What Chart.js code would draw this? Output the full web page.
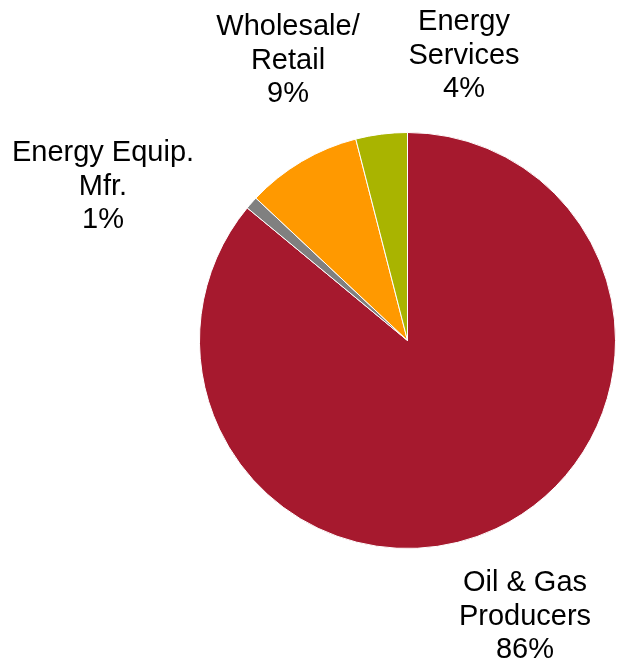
<!DOCTYPE html>
<html>
<head>
<meta charset="utf-8">
<script src="https://cdn.jsdelivr.net/npm/chart.js@4/dist/chart.umd.min.js"></script>
<style>
  html, body { margin: 0; padding: 0; background: #ffffff; }
  canvas { display: block; }
</style>
</head>
<body>
<canvas id="pieChartEnergy" width="617" height="661"></canvas>
<script>
// sector shares, clockwise from 12 o'clock
var sectors = [["Oil & Gas", "Producers"], ["Energy Equip.", "Mfr."], ["Wholesale/", "Retail"], ["Energy", "Services"]];
var shares = [86, 1, 9, 4];
var sectorColors = ["#A6192E", "#808080", "#FF9900", "#A9B400"];

// where each label block sits: centre x, baseline of its first line
var labelAnchor = [[525, 591], [103, 161], [288, 35], [464, 30]];
var lineGap = 33.5;

var outsideLabels = {
    id: 'outsideLabels',
    afterDraw: function(chart) {
        var ctx = chart.ctx;
        ctx.save();
        ctx.font = '29px "Liberation Sans", Arial, sans-serif';
        ctx.fillStyle = '#000000';
        ctx.textAlign = 'center';
        ctx.textBaseline = 'alphabetic';
        sectors.forEach(function(lines, i) {
            var rows = lines.concat([shares[i] + '%']);
            rows.forEach(function(txt, j) {
                ctx.fillText(txt, labelAnchor[i][0], labelAnchor[i][1] + j * lineGap);
            });
        });
        ctx.restore();
    }
};

var ctxEnergy = document.getElementById("pieChartEnergy").getContext('2d');
var energyPieChart = new Chart(ctxEnergy, {
    type: 'pie',
    data: {
        labels: sectors.map(function(s) { return s.join(' '); }),
        datasets: [{
            data: shares,
            backgroundColor: sectorColors,
            borderColor: '#ffffff',
            borderWidth: 1
        }]
    },
    options: {
        responsive: false,
        animation: false,
        layout: {
            padding: { left: 199, right: 1, top: 132, bottom: 112 }
        },
        plugins: {
            legend: { display: false },
            tooltip: { enabled: false }
        }
    },
    plugins: [outsideLabels]
});
</script>
</body>
</html>
